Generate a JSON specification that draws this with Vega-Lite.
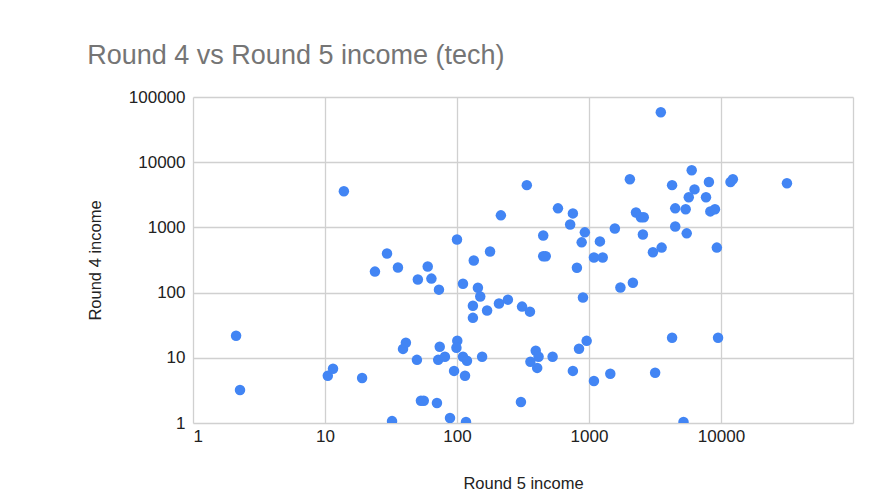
{
  "$schema": "https://vega.github.io/schema/vega-lite/v6.json",
  "width": 660,
  "height": 326,
  "autosize": {"type": "none"},
  "padding": {"left": 193, "top": 97, "right": 41, "bottom": 77},
  "background": "white",
  "title": {
    "text": "Round 4 vs Round 5 income (tech)",
    "anchor": "start",
    "frame": "bounds",
    "font": "Liberation Sans",
    "fontSize": 27,
    "fontWeight": "normal",
    "color": "#757575",
    "offset": 18
  },
  "config": {
    "view": {"stroke": null},
    "axis": {
      "labelFont": "Liberation Sans",
      "titleFont": "Liberation Sans",
      "labelColor": "#222222",
      "titleColor": "#222222",
      "gridColor": "#d0d0d0",
      "gridWidth": 1.3,
      "gridOpacity": 1,
      "domain": false,
      "ticks": false
    }
  },
  "data": {
    "values": [
      {"r5": 2.12, "r4": 21.8}, {"r5": 2.27, "r4": 3.2}, {"r5": 13.9, "r4": 3580},
      {"r5": 10.5, "r4": 5.3}, {"r5": 11.5, "r4": 6.8}, {"r5": 19.1, "r4": 4.9},
      {"r5": 23.9, "r4": 210}, {"r5": 29.5, "r4": 398}, {"r5": 35.7, "r4": 243},
      {"r5": 32.2, "r4": 1.07}, {"r5": 39, "r4": 13.7}, {"r5": 41, "r4": 17},
      {"r5": 49.7, "r4": 9.3}, {"r5": 53.3, "r4": 2.2}, {"r5": 56, "r4": 2.2},
      {"r5": 70.5, "r4": 2.03}, {"r5": 74, "r4": 14.8}, {"r5": 72, "r4": 9.3},
      {"r5": 81, "r4": 10.4}, {"r5": 88.5, "r4": 1.19}, {"r5": 95, "r4": 6.3},
      {"r5": 100.5, "r4": 18.3}, {"r5": 99, "r4": 14.3}, {"r5": 111, "r4": 10.4},
      {"r5": 119, "r4": 9.0}, {"r5": 115, "r4": 5.3}, {"r5": 117, "r4": 1.04},
      {"r5": 155, "r4": 10.4}, {"r5": 305, "r4": 2.1}, {"r5": 215, "r4": 1530},
      {"r5": 100, "r4": 653}, {"r5": 178, "r4": 427}, {"r5": 134, "r4": 311},
      {"r5": 60, "r4": 251}, {"r5": 50.5, "r4": 159}, {"r5": 64, "r4": 164},
      {"r5": 73, "r4": 111}, {"r5": 111, "r4": 137}, {"r5": 144, "r4": 119},
      {"r5": 150, "r4": 87}, {"r5": 132, "r4": 63}, {"r5": 132, "r4": 41},
      {"r5": 169, "r4": 53}, {"r5": 208, "r4": 68}, {"r5": 243, "r4": 78},
      {"r5": 311, "r4": 61}, {"r5": 357, "r4": 51},
      {"r5": 3500, "r4": 58500}, {"r5": 6000, "r4": 7530}, {"r5": 2040, "r4": 5470},
      {"r5": 8100, "r4": 4960}, {"r5": 11800, "r4": 4960}, {"r5": 12300, "r4": 5470},
      {"r5": 31600, "r4": 4750}, {"r5": 4260, "r4": 4450}, {"r5": 338, "r4": 4450},
      {"r5": 6300, "r4": 3830}, {"r5": 5700, "r4": 2900}, {"r5": 7700, "r4": 2900},
      {"r5": 4500, "r4": 1960}, {"r5": 5400, "r4": 1900}, {"r5": 8300, "r4": 1760},
      {"r5": 9000, "r4": 1900}, {"r5": 582, "r4": 1960}, {"r5": 755, "r4": 1640},
      {"r5": 720, "r4": 1110}, {"r5": 2270, "r4": 1690}, {"r5": 2470, "r4": 1430},
      {"r5": 2600, "r4": 1430}, {"r5": 930, "r4": 840}, {"r5": 450, "r4": 750},
      {"r5": 880, "r4": 590}, {"r5": 1210, "r4": 610}, {"r5": 450, "r4": 360},
      {"r5": 470, "r4": 360}, {"r5": 810, "r4": 240}, {"r5": 1090, "r4": 345},
      {"r5": 1270, "r4": 345}, {"r5": 1570, "r4": 960}, {"r5": 2560, "r4": 780},
      {"r5": 4500, "r4": 1030}, {"r5": 5500, "r4": 810}, {"r5": 3050, "r4": 415},
      {"r5": 3550, "r4": 490}, {"r5": 9300, "r4": 490}, {"r5": 1730, "r4": 120},
      {"r5": 2150, "r4": 142}, {"r5": 900, "r4": 84}, {"r5": 4260, "r4": 20.3},
      {"r5": 9500, "r4": 20.3}, {"r5": 960, "r4": 18.2}, {"r5": 840, "r4": 13.8},
      {"r5": 395, "r4": 12.8}, {"r5": 415, "r4": 10.4}, {"r5": 530, "r4": 10.4},
      {"r5": 360, "r4": 8.7}, {"r5": 405, "r4": 7.0}, {"r5": 755, "r4": 6.3},
      {"r5": 1090, "r4": 4.4}, {"r5": 1450, "r4": 5.7}, {"r5": 3170, "r4": 5.9},
      {"r5": 5200, "r4": 1.04}
    ]
  },
  "mark": {"type": "circle", "size": 110, "color": "#4285f4", "opacity": 1, "clip": true},
  "encoding": {
    "x": {
      "field": "r5",
      "type": "quantitative",
      "title": "Round 5 income",
      "scale": {"type": "log", "domain": [1, 100000], "nice": false},
      "axis": {
        "values": [1, 10, 100, 1000, 10000, 100000],
        "labelExpr": "datum.value == 100000 ? '' : format(datum.value, 'd')",
        "labelFontSize": 17,
        "labelPadding": 5,
        "titleFontSize": 16.5,
        "titleFontWeight": "normal",
        "titlePadding": 31
      }
    },
    "y": {
      "field": "r4",
      "type": "quantitative",
      "title": "Round 4 income",
      "scale": {"type": "log", "domain": [1, 100000], "nice": false},
      "axis": {
        "values": [1, 10, 100, 1000, 10000, 100000],
        "labelExpr": "format(datum.value, 'd')",
        "labelFontSize": 17,
        "labelPadding": 8,
        "titleFontSize": 16.5,
        "titleFontWeight": "normal",
        "titlePadding": 25
      }
    }
  }
}
